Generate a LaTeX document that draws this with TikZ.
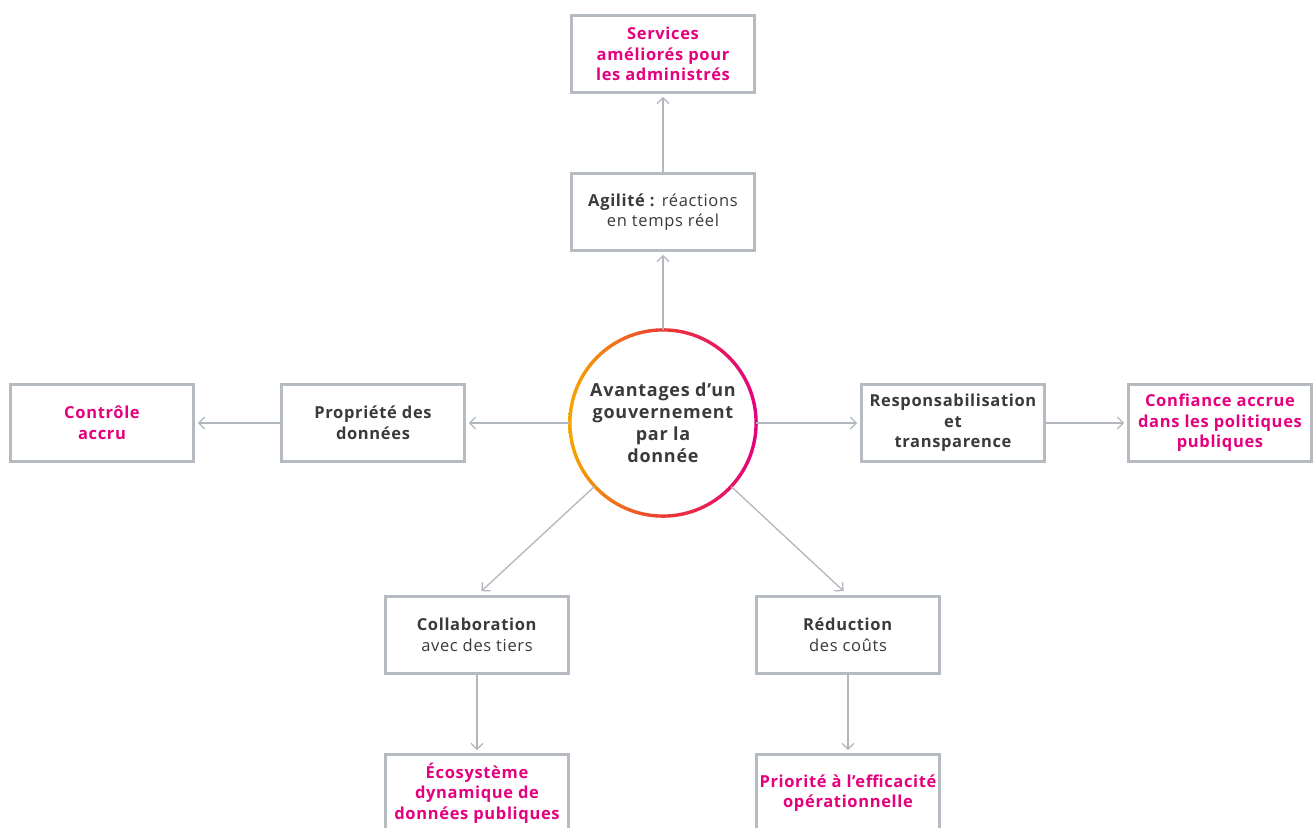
\documentclass[tikz,border=0pt]{standalone}
\usepackage{fontspec}
\setmainfont{Open Sans}[LetterSpace=4]
\usetikzlibrary{arrows.meta, positioning}

\definecolor{framegray}{RGB}{182,187,194}
\definecolor{linegray}{RGB}{178,183,190}
\definecolor{txtgray}{RGB}{58,58,58}
\definecolor{accentpink}{RGB}{229,0,126}
\definecolor{ringorange}{RGB}{246,166,0}
\definecolor{ringred}{RGB}{234,58,52}

\begin{document}
\begin{tikzpicture}[x=1pt, y=-1pt, text=txtgray,
  font=\fontsize{16.5}{20.5}\selectfont,
  box/.style={draw=framegray, line width=2.6pt, minimum width=183pt,
    minimum height=77pt, align=center, inner sep=2pt},
  topic/.style={box, font=\fontsize{16.5}{20.5}\selectfont\bfseries},
  goal/.style={box, text=accentpink, font=\fontsize{16.5}{20.5}\selectfont\bfseries},
  arr/.style={draw=linegray, line width=1.3pt,
    -{Straight Barb[length=6pt, width=12pt]}, shorten >=3pt}]

  % --- page ---
  \useasboundingbox (0,0) rectangle (1314,827);
  \fill[white] (0,0) rectangle (1314,827);

  % --- centre ---
  \node[circle, minimum size=186pt, align=center,
    font=\fontsize{18}{22}\selectfont\bfseries] (ctr) at (663,423)
    {Avantages d’un\\gouvernement\\par la\\donnée};
  \shade[even odd rule, left color=ringorange, right color=accentpink,
    middle color=ringred] (ctr.center) circle (94.8pt) (ctr.center) circle (91.4pt);

  % --- upper branch ---
  \node[box] (agil) at (663,212) {\textbf{Agilité :} réactions\\en temps réel};
  \node[goal] (serv) at (663,54) {Services\\améliorés pour\\les administrés};

  % --- left branch ---
  \node[topic] (prop) at (373,423) {Propriété des\\données};
  \node[goal] (ctrl) at (102,423) {Contrôle\\accru};

  % --- right branch ---
  \node[topic] (resp) at (953,423) {Responsabilisation\\et\\transparence};
  \node[goal] (conf) at (1220,423) {Confiance accrue\\dans les politiques\\publiques};

  % --- lower branches ---
  \node[box] (collab) at (477,635) {\textbf{Collaboration}\\avec des tiers};
  \node[goal] (eco) at (477,793) {Écosystème\\dynamique de\\données publiques};
  \node[box] (cost) at (848,635) {\textbf{Réduction}\\des coûts};
  \node[goal] (prio) at (848,793) {Priorité à l’efficacité\\opérationnelle};

  % --- connectors ---
  \draw[arr] (ctr) -- (agil);
  \draw[arr] (agil) -- (serv);
  \draw[arr] (ctr) -- (prop);
  \draw[arr] (prop) -- (ctrl);
  \draw[arr] (ctr) -- (resp);
  \draw[arr] (resp) -- (conf);
  \draw[arr, shorten >=6pt] (ctr) -- (collab.north);
  \draw[arr, shorten >=6pt] (ctr) -- (cost.north);
  \draw[arr] (collab) -- (eco);
  \draw[arr] (cost) -- (prio);

\end{tikzpicture}
\end{document}
